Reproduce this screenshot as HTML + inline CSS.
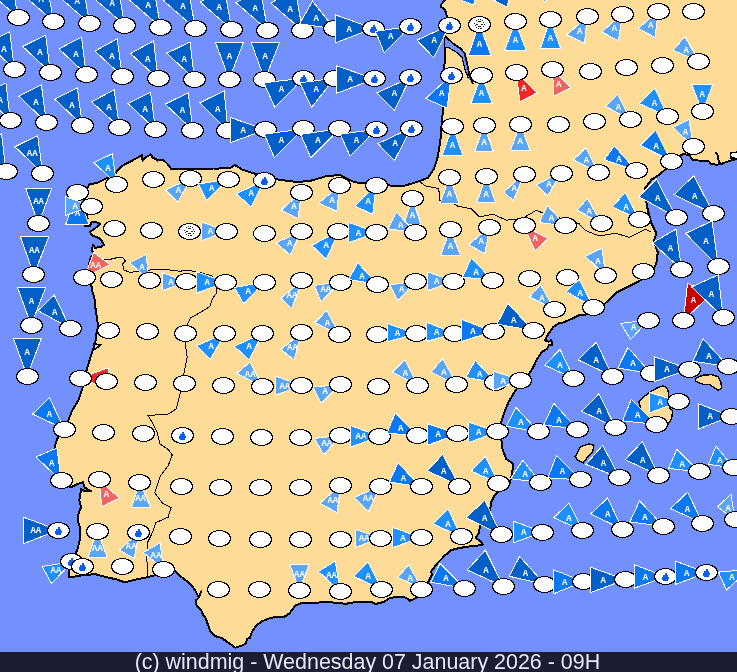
<!DOCTYPE html>
<html><head><meta charset="utf-8"><style>
html,body{margin:0;padding:0;background:#7291ff;}
#w{position:relative;width:737px;height:672px;overflow:hidden;}
svg{position:absolute;left:0;top:0;}
.t{font-family:"Liberation Mono",monospace;font-size:9px;font-weight:bold;fill:#fff;text-anchor:middle;}
</style></head><body><div id="w">
<svg width="737" height="672" viewBox="0 0 737 672" shape-rendering="crispEdges">
<rect x="0" y="0" width="737" height="672" fill="#7291ff"/>
<polygon points="445.5,-4.0 745.0,-4.0 745.0,157.0 737.0,159.0 728.7,161.2 722.9,163.4 717.1,164.8 711.3,164.1 708.4,160.8 698.2,160.5 692.4,159.8 689.5,155.4 683.7,154.0 676.0,157.0 668.0,166.0 665.6,169.2 659.0,175.0 651.8,179.4 645.2,188.1 645.5,195.3 646.9,206.1 651.0,222.4 656.4,233.3 653.7,241.4 657.8,252.3 656.4,263.1 651.0,274.0 637.4,282.1 626.6,287.5 615.7,293.0 604.8,303.8 599.4,309.3 585.8,314.7 580.0,314.6 574.2,317.7 565.8,321.4 563.8,322.4 558.5,323.4 553.3,327.1 550.2,331.3 547.1,335.9 545.0,340.6 548.6,341.7 551.4,340.0 552.3,345.3 549.0,344.8 547.1,349.0 541.9,351.9 537.1,359.0 532.4,368.6 527.6,375.7 520.0,385.0 515.7,390.0 508.6,401.9 503.8,413.8 500.2,425.7 499.0,433.0 501.4,440.0 502.6,449.5 506.2,459.0 513.3,463.8 512.1,473.3 509.8,482.9 500.3,490.0 494.2,496.1 491.1,502.2 490.1,510.4 483.0,518.5 479.9,526.6 478.9,532.7 475.8,537.8 480.9,541.9 483.0,544.5 475.8,546.0 467.7,546.6 459.6,548.0 451.4,550.0 445.3,555.1 437.2,563.3 431.1,571.4 432.0,574.7 427.6,583.4 421.0,595.4 416.8,597.6 410.0,600.8 406.0,597.6 397.2,596.5 388.5,598.6 384.0,601.9 375.5,604.0 371.0,601.9 356.0,601.9 345.0,604.0 340.8,603.0 323.4,601.9 314.7,603.0 301.7,603.0 295.4,605.6 289.7,613.2 284.0,617.0 276.4,617.0 270.7,617.9 261.2,621.7 255.5,626.5 251.7,632.2 249.8,637.9 246.9,638.8 246.0,643.6 242.2,645.5 235.5,647.8 227.0,641.7 221.3,637.9 214.6,636.0 210.8,632.2 208.0,624.6 205.1,617.0 203.2,615.1 201.3,610.3 196.6,605.6 195.6,600.8 198.5,598.0 201.3,591.3 198.5,597.0 194.7,589.4 189.0,582.8 181.4,577.1 175.7,571.4 168.2,571.4 149.3,576.8 135.7,579.5 124.8,582.3 116.7,579.5 103.1,576.3 95.0,574.1 81.4,575.5 69.2,577.4 69.2,571.4 73.3,557.8 77.3,549.7 80.1,538.8 80.1,528.0 77.5,520.0 78.4,514.3 81.1,507.1 79.3,500.0 80.2,494.6 81.1,489.3 84.6,491.1 90.9,491.1 84.6,487.5 82.9,482.1 75.7,484.8 70.4,487.5 62.0,482.0 58.8,471.4 57.0,462.5 55.2,453.6 55.2,444.6 57.9,437.5 64.0,430.0 68.6,419.6 72.1,410.7 78.5,400.0 82.5,388.1 86.6,370.1 89.1,362.0 91.5,353.8 94.0,347.2 95.6,340.7 96.4,334.2 98.1,326.0 97.2,319.4 95.6,309.6 94.8,299.8 92.0,290.0 91.3,285.0 89.8,270.0 89.0,265.6 89.8,259.6 91.3,256.6 94.3,253.6 92.0,250.7 92.8,244.7 95.0,247.7 101.0,247.0 104.0,244.7 101.7,241.0 98.7,238.0 92.8,235.8 89.8,232.0 94.3,229.1 100.2,223.8 96.5,222.4 91.3,222.4 89.8,226.1 84.6,226.1 87.6,218.6 86.8,214.9 86.0,205.0 85.0,198.0 86.0,190.0 89.6,184.4 98.2,182.5 106.2,178.5 115.6,173.1 120.0,167.6 125.3,164.1 132.3,160.6 138.5,157.1 142.0,155.3 142.6,160.6 144.7,157.9 150.9,154.4 152.6,157.9 155.3,158.8 157.9,160.6 162.3,159.7 165.0,161.5 167.6,164.1 170.3,167.6 171.1,169.4 180.0,169.4 194.0,169.0 204.7,169.4 213.5,168.5 218.8,168.5 231.1,167.6 234.6,165.0 238.2,166.8 241.7,169.4 251.4,172.7 275.6,179.2 297.0,182.1 311.2,180.6 325.5,176.4 339.7,174.9 354.0,182.1 365.4,183.5 379.6,182.1 391.0,185.8 402.4,186.3 416.6,182.1 428.0,177.8 433.7,169.2 436.6,160.7 437.7,157.0 440.3,141.8 441.5,126.6 442.8,111.4 444.0,101.3 445.3,83.5 444.0,68.4 445.3,58.2 445.3,45.6 445.0,36.0 447.0,18.0 446.0,12.6 444.1,8.9 440.8,6.7 441.2,4.5 444.9,0.0" fill="#ffdb98" stroke="#000" stroke-width="2" stroke-linejoin="round"/>
<polygon points="644.2,396.5 649.6,392.4 656.4,388.3 663.2,385.6 667.3,388.3 668.6,393.8 670.0,408.7 672.7,411.4 671.3,419.6 667.3,425.0 656.0,424.0 645.5,419.6 641.5,411.4 638.8,401.9" fill="#ffdb98" stroke="#000" stroke-width="1.4" stroke-linejoin="round"/>
<polygon points="695.7,378.2 703.1,375.2 712.0,374.6 718.0,376.7 721.0,382.7 721.5,388.6 718.0,390.1 713.5,387.1 709.0,384.2 703.1,384.2 698.6,382.7 695.7,381.2" fill="#ffdb98" stroke="#000" stroke-width="1.4" stroke-linejoin="round"/>
<polygon points="576.3,454.8 580.4,446.7 588.6,444.0 594.0,445.3 592.6,452.1 587.2,457.5 583.1,463.0 577.7,460.3 575.0,456.2" fill="#ffdb98" stroke="#000" stroke-width="1.4" stroke-linejoin="round"/>
<polyline points="89.8,259.6 95.5,259.9 109.2,259.6 116.7,257.7 122.6,257.4 125.6,261.1 122.6,264.1 124.1,270.0 130.3,272.6 135.7,271.3 150.0,270.0 169.6,269.9 180.0,271.3 186.8,270.0 190.0,270.7 200.0,272.5" fill="none" stroke="#000" stroke-width="1"/>
<polyline points="200.0,272.5 212.0,276.0 216.6,283.0 216.6,293.0 212.6,298.4 209.9,306.5 196.3,314.7 190.9,317.4 186.8,325.5 184.5,338.1 187.2,357.1 184.5,370.7 180.5,392.4 176.4,408.7 168.2,414.1 147.9,415.5 152.0,422.3 157.4,433.1 160.1,444.0 168.2,449.4 172.3,454.8 168.2,465.7 160.1,476.5 154.7,492.8 162.8,503.6 171.0,507.6 168.2,517.1 156.0,522.6 152.0,533.4 147.9,541.6 146.5,557.8 147.9,568.7 148.0,577.0" fill="none" stroke="#000" stroke-width="1"/>
<polyline points="419.7,181.7 425.1,185.8 431.9,187.1 438.7,188.5 440.0,200.7 449.0,201.0 457.7,206.1 471.3,208.8 479.4,217.0 493.0,214.3 506.5,220.2 522.8,218.3 536.4,210.2 545.0,214.0 572.3,221.1 579.1,223.8 585.8,230.6 599.4,236.0 615.7,233.3 629.3,237.3 645.5,229.2 651.0,232.0" fill="none" stroke="#000" stroke-width="1"/>
<polygon points="445,36.4 454.5,44.6 460,48 464.5,53 467,63 469.5,76 473,83.5 468.5,78.5 465.5,71 462,57 456,52 449.5,48 445.5,47.5" fill="#7291ff"/>
<polyline points="445,36.4 454.5,44.6 460,48 464.5,53 467,63 469.5,76 473.2,84" fill="none" stroke="#000" stroke-width="1.8"/>
<polyline points="445.5,47.5 449.5,48 456,52 462,57 465.5,71 468.5,78.5" fill="none" stroke="#000" stroke-width="1.2"/>
<polyline points="715.6,152.4 717.9,155.5 718.7,161.7 721.8,164.7" fill="none" stroke="#000" stroke-width="2"/>
<polygon points="730.5,153 738,152 738,158.5 731,158" fill="#fff" stroke="#000" stroke-width="1.5"/>
<polyline points="96.4,339 94,344 100.5,344.8 95.6,348.9 92.3,350.5" fill="none" stroke="#000" stroke-width="1.8"/>
<polygon points="448.0,-5.0 476.0,-4.0 473.4,4.9" fill="#0a78f0" stroke="#fff" stroke-width="1"/>
<polygon points="481.0,-6.5 509.0,-6.0 507.6,7.3" fill="#0060c8" stroke="#fff" stroke-width="1"/>
<polygon points="538.0,-4.0 547.0,-2.0 545.0,1.6" fill="#1e90ff" stroke="#fff" stroke-width="1"/>
<polygon points="18.0,17.2 -13.6,-10.3 10.7,-24.1" fill="#0060c8" stroke="#fff" stroke-width="1"/>
<text x="5.6" y="-1.8" class="t">A</text>
<ellipse cx="18.5" cy="17.5" rx="11" ry="8" fill="#fff" stroke="#000" stroke-width="1"/>
<polygon points="53.5,21.3 21.9,-6.2 46.2,-20.0" fill="#0060c8" stroke="#fff" stroke-width="1"/>
<text x="41.1" y="2.3" class="t">A</text>
<ellipse cx="53.5" cy="21.5" rx="11" ry="8" fill="#fff" stroke="#000" stroke-width="1"/>
<polygon points="89.6,23.3 58.0,-4.2 82.3,-18.0" fill="#0060c8" stroke="#fff" stroke-width="1"/>
<text x="77.2" y="4.3" class="t">A</text>
<ellipse cx="89.5" cy="23.5" rx="11" ry="8" fill="#fff" stroke="#000" stroke-width="1"/>
<polygon points="124.7,25.1 93.1,-2.4 117.4,-16.2" fill="#0060c8" stroke="#fff" stroke-width="1"/>
<text x="112.3" y="6.1" class="t">A</text>
<ellipse cx="124.5" cy="25.5" rx="11" ry="8" fill="#fff" stroke="#000" stroke-width="1"/>
<polygon points="160.6,27.1 129.0,-0.4 153.3,-14.2" fill="#0060c8" stroke="#fff" stroke-width="1"/>
<text x="148.2" y="8.1" class="t">A</text>
<ellipse cx="160.5" cy="27.5" rx="11" ry="8" fill="#fff" stroke="#000" stroke-width="1"/>
<polygon points="195.3,28.4 163.7,0.9 188.0,-12.9" fill="#0060c8" stroke="#fff" stroke-width="1"/>
<text x="182.9" y="9.4" class="t">A</text>
<ellipse cx="195.5" cy="28.5" rx="11" ry="8" fill="#fff" stroke="#000" stroke-width="1"/>
<polygon points="231.7,29.4 200.1,1.9 224.4,-11.9" fill="#0060c8" stroke="#fff" stroke-width="1"/>
<text x="219.3" y="10.4" class="t">A</text>
<ellipse cx="231.5" cy="29.5" rx="11" ry="8" fill="#fff" stroke="#000" stroke-width="1"/>
<polygon points="267.6,30.1 236.0,2.6 260.3,-11.2" fill="#0060c8" stroke="#fff" stroke-width="1"/>
<text x="255.2" y="11.1" class="t">A</text>
<ellipse cx="267.5" cy="30.5" rx="11" ry="8" fill="#fff" stroke="#000" stroke-width="1"/>
<polygon points="302.5,30.6 270.9,3.1 295.2,-10.7" fill="#0060c8" stroke="#fff" stroke-width="1"/>
<text x="290.1" y="11.6" class="t">A</text>
<ellipse cx="302.5" cy="30.5" rx="11" ry="8" fill="#fff" stroke="#000" stroke-width="1"/>
<polygon points="334.6,28.9 312.5,1.2 299.5,23.8" fill="#0060c8" stroke="#fff" stroke-width="1"/>
<text x="316.3" y="21.4" class="t">A</text>
<ellipse cx="334.5" cy="28.5" rx="11" ry="8" fill="#fff" stroke="#000" stroke-width="1"/>
<polygon points="373.2,28.3 335.9,15.1 335.9,42.7" fill="#0060c8" stroke="#fff" stroke-width="1"/>
<text x="349.3" y="31.7" class="t">A</text>
<ellipse cx="373.5" cy="28.5" rx="11" ry="8" fill="#fff" stroke="#000" stroke-width="1"/>
<g transform="translate(373.5,28.5)" fill="#0a5cf2"><circle cx="0" cy="1.6" r="3.2"/><rect x="-1" y="-3.2" width="2" height="2.5"/></g>
<polygon points="410.2,26.4 375.5,31.4 384.3,52.7" fill="#0060c8" stroke="#fff" stroke-width="1"/>
<text x="390.8" y="39.4" class="t">A</text>
<ellipse cx="410.5" cy="26.5" rx="11" ry="8" fill="#fff" stroke="#000" stroke-width="1"/>
<g transform="translate(410.5,26.5)" fill="#0a5cf2"><circle cx="0" cy="1.6" r="3.2"/><rect x="-1" y="-3.2" width="2" height="2.5"/></g>
<polygon points="449.6,25.1 417.0,40.2 433.8,57.7" fill="#0060c8" stroke="#fff" stroke-width="1"/>
<text x="434.1" y="43.4" class="t">A</text>
<ellipse cx="449.5" cy="25.5" rx="11" ry="8" fill="#fff" stroke="#000" stroke-width="1"/>
<g transform="translate(449.5,25.5)" fill="#0a5cf2"><circle cx="0" cy="1.6" r="3.2"/><rect x="-1" y="-3.2" width="2" height="2.5"/></g>
<polygon points="479.2,24.3 468.4,55.2 491.0,55.2" fill="#0a78f0" stroke="#fff" stroke-width="1"/>
<text x="479.5" y="47.1" class="t">A</text>
<ellipse cx="479.5" cy="24.5" rx="11" ry="8" fill="#fff" stroke="#000" stroke-width="1"/>
<g transform="translate(479.5,24.0)" fill="none" stroke="#222" stroke-width="1"><circle r="4.6" stroke-dasharray="1.2 1.2"/><path d="M-3.2,0H-1.2M1.2,0H3.2M-1.5,-2.6H1.5M-1.5,2.6H1.5"/></g>
<polygon points="515.3,21.8 504.8,50.2 526.1,50.2" fill="#1e90ff" stroke="#fff" stroke-width="1"/>
<text x="515.4" y="43.0" class="t">A</text>
<ellipse cx="515.5" cy="21.5" rx="11" ry="8" fill="#fff" stroke="#000" stroke-width="1"/>
<polygon points="550.0,19.5 540.3,48.8 560.9,48.8" fill="#1e90ff" stroke="#fff" stroke-width="1"/>
<text x="550.4" y="41.3" class="t">A</text>
<ellipse cx="550.5" cy="19.5" rx="11" ry="8" fill="#fff" stroke="#000" stroke-width="1"/>
<polygon points="587.2,16.8 566.9,34.7 584.5,43.4" fill="#5aa5f5" stroke="#fff" stroke-width="1"/>
<text x="579.8" y="34.0" class="t">A</text>
<ellipse cx="587.5" cy="16.5" rx="11" ry="8" fill="#fff" stroke="#000" stroke-width="1"/>
<polygon points="622.5,14.1 601.6,32.0 618.4,40.7" fill="#5aa5f5" stroke="#fff" stroke-width="1"/>
<text x="614.5" y="31.3" class="t">A</text>
<ellipse cx="622.5" cy="14.5" rx="11" ry="8" fill="#fff" stroke="#000" stroke-width="1"/>
<polygon points="658.3,11.4 638.0,28.5 655.0,37.4" fill="#5aa5f5" stroke="#fff" stroke-width="1"/>
<text x="650.7" y="28.2" class="t">A</text>
<ellipse cx="658.5" cy="11.5" rx="11" ry="8" fill="#fff" stroke="#000" stroke-width="1"/>
<ellipse cx="693.5" cy="11.5" rx="11" ry="8" fill="#fff" stroke="#000" stroke-width="1"/>
<polygon points="14.3,69.0 -13.3,43.1 9.8,31.8" fill="#0060c8" stroke="#fff" stroke-width="1"/>
<text x="4.0" y="51.8" class="t">A</text>
<ellipse cx="14.5" cy="69.5" rx="11" ry="8" fill="#fff" stroke="#000" stroke-width="1"/>
<polygon points="50.2,72.3 22.6,46.4 45.7,35.1" fill="#0060c8" stroke="#fff" stroke-width="1"/>
<text x="39.9" y="55.1" class="t">A</text>
<ellipse cx="50.5" cy="72.5" rx="11" ry="8" fill="#fff" stroke="#000" stroke-width="1"/>
<polygon points="86.1,74.3 59.0,48.9 81.6,37.1" fill="#0060c8" stroke="#fff" stroke-width="1"/>
<text x="76.0" y="57.3" class="t">A</text>
<ellipse cx="86.5" cy="74.5" rx="11" ry="8" fill="#fff" stroke="#000" stroke-width="1"/>
<polygon points="122.2,76.1 94.9,51.0 117.2,38.9" fill="#0060c8" stroke="#fff" stroke-width="1"/>
<text x="111.9" y="59.2" class="t">A</text>
<ellipse cx="122.5" cy="76.5" rx="11" ry="8" fill="#fff" stroke="#000" stroke-width="1"/>
<polygon points="158.1,78.6 130.5,53.5 153.6,40.9" fill="#0060c8" stroke="#fff" stroke-width="1"/>
<text x="147.8" y="61.5" class="t">A</text>
<ellipse cx="158.5" cy="78.5" rx="11" ry="8" fill="#fff" stroke="#000" stroke-width="1"/>
<polygon points="194.5,79.1 166.9,53.2 190.0,41.9" fill="#0060c8" stroke="#fff" stroke-width="1"/>
<text x="184.2" y="61.9" class="t">A</text>
<ellipse cx="194.5" cy="79.5" rx="11" ry="8" fill="#fff" stroke="#000" stroke-width="1"/>
<polygon points="229.2,79.1 215.4,42.2 243.5,42.2" fill="#0060c8" stroke="#fff" stroke-width="1"/>
<text x="229.4" y="58.5" class="t">A</text>
<ellipse cx="229.5" cy="79.5" rx="11" ry="8" fill="#fff" stroke="#000" stroke-width="1"/>
<polygon points="264.8,79.8 251.3,42.7 279.4,42.7" fill="#0060c8" stroke="#fff" stroke-width="1"/>
<text x="265.2" y="59.1" class="t">A</text>
<ellipse cx="264.5" cy="79.5" rx="11" ry="8" fill="#fff" stroke="#000" stroke-width="1"/>
<polygon points="303.2,78.3 263.8,82.8 274.9,107.4" fill="#0060c8" stroke="#fff" stroke-width="1"/>
<text x="281.5" y="92.1" class="t">A</text>
<ellipse cx="303.5" cy="78.5" rx="11" ry="8" fill="#fff" stroke="#000" stroke-width="1"/>
<g transform="translate(303.5,78.5)" fill="#0a5cf2"><circle cx="0" cy="1.6" r="3.2"/><rect x="-1" y="-3.2" width="2" height="2.5"/></g>
<polygon points="334.6,78.3 300.0,82.8 311.5,107.4" fill="#0060c8" stroke="#fff" stroke-width="1"/>
<text x="316.1" y="92.1" class="t">A</text>
<ellipse cx="334.5" cy="78.5" rx="11" ry="8" fill="#fff" stroke="#000" stroke-width="1"/>
<polygon points="374.6,78.9 336.4,65.8 336.4,93.4" fill="#0060c8" stroke="#fff" stroke-width="1"/>
<text x="350.2" y="82.3" class="t">A</text>
<ellipse cx="374.5" cy="78.5" rx="11" ry="8" fill="#fff" stroke="#000" stroke-width="1"/>
<g transform="translate(374.5,78.5)" fill="#0a5cf2"><circle cx="0" cy="1.6" r="3.2"/><rect x="-1" y="-3.2" width="2" height="2.5"/></g>
<polygon points="410.2,77.8 376.8,92.9 394.4,110.4" fill="#0060c8" stroke="#fff" stroke-width="1"/>
<text x="394.5" y="96.1" class="t">A</text>
<ellipse cx="410.5" cy="77.5" rx="11" ry="8" fill="#fff" stroke="#000" stroke-width="1"/>
<g transform="translate(410.5,77.5)" fill="#0a5cf2"><circle cx="0" cy="1.6" r="3.2"/><rect x="-1" y="-3.2" width="2" height="2.5"/></g>
<polygon points="451.2,75.4 425.7,98.6 447.1,108.1" fill="#0a78f0" stroke="#fff" stroke-width="1"/>
<text x="441.7" y="96.3" class="t">A</text>
<ellipse cx="451.5" cy="75.5" rx="11" ry="8" fill="#fff" stroke="#000" stroke-width="1"/>
<g transform="translate(451.5,75.5)" fill="#0a5cf2"><circle cx="0" cy="1.6" r="3.2"/><rect x="-1" y="-3.2" width="2" height="2.5"/></g>
<polygon points="481.5,75.3 470.9,103.4 492.2,103.4" fill="#1e90ff" stroke="#fff" stroke-width="1"/>
<text x="481.5" y="96.3" class="t">A</text>
<ellipse cx="481.5" cy="75.5" rx="11" ry="8" fill="#fff" stroke="#000" stroke-width="1"/>
<polygon points="516.1,72.0 519.9,101.7 536.7,92.9" fill="#f02828" stroke="#fff" stroke-width="1"/>
<text x="523.9" y="91.2" class="t">A</text>
<ellipse cx="516.5" cy="72.5" rx="11" ry="8" fill="#fff" stroke="#000" stroke-width="1"/>
<polygon points="552.5,69.2 553.8,96.3 570.9,87.4" fill="#f06464" stroke="#fff" stroke-width="1"/>
<text x="558.8" y="86.7" class="t">A</text>
<ellipse cx="552.5" cy="69.5" rx="11" ry="8" fill="#fff" stroke="#000" stroke-width="1"/>
<ellipse cx="590.5" cy="71.5" rx="11" ry="8" fill="#fff" stroke="#000" stroke-width="1"/>
<ellipse cx="626.5" cy="67.5" rx="11" ry="8" fill="#fff" stroke="#000" stroke-width="1"/>
<ellipse cx="662.5" cy="65.5" rx="11" ry="8" fill="#fff" stroke="#000" stroke-width="1"/>
<polygon points="698.5,61.1 673.2,50.2 684.9,36.6" fill="#5aa5f5" stroke="#fff" stroke-width="1"/>
<text x="686.1" y="52.8" class="t">A</text>
<ellipse cx="698.5" cy="61.5" rx="11" ry="8" fill="#fff" stroke="#000" stroke-width="1"/>
<polygon points="10.4,120.3 -17.2,94.4 5.9,83.1" fill="#0060c8" stroke="#fff" stroke-width="1"/>
<text x="0.1" y="103.1" class="t">A</text>
<ellipse cx="10.5" cy="120.5" rx="11" ry="8" fill="#fff" stroke="#000" stroke-width="1"/>
<polygon points="46.4,122.5 18.8,96.1 41.4,84.8" fill="#0060c8" stroke="#fff" stroke-width="1"/>
<text x="36.0" y="105.0" class="t">A</text>
<ellipse cx="46.5" cy="122.5" rx="11" ry="8" fill="#fff" stroke="#000" stroke-width="1"/>
<polygon points="82.3,125.0 54.7,99.1 77.3,87.8" fill="#0060c8" stroke="#fff" stroke-width="1"/>
<text x="71.9" y="107.8" class="t">A</text>
<ellipse cx="82.5" cy="125.5" rx="11" ry="8" fill="#fff" stroke="#000" stroke-width="1"/>
<polygon points="119.5,127.3 91.6,101.7 114.2,89.9" fill="#0060c8" stroke="#fff" stroke-width="1"/>
<text x="108.9" y="110.1" class="t">A</text>
<ellipse cx="119.5" cy="127.5" rx="11" ry="8" fill="#fff" stroke="#000" stroke-width="1"/>
<polygon points="155.4,129.3 128.0,103.4 150.6,92.4" fill="#0060c8" stroke="#fff" stroke-width="1"/>
<text x="145.1" y="112.2" class="t">A</text>
<ellipse cx="155.5" cy="129.5" rx="11" ry="8" fill="#fff" stroke="#000" stroke-width="1"/>
<polygon points="192.8,130.0 165.2,104.1 188.3,92.8" fill="#0060c8" stroke="#fff" stroke-width="1"/>
<text x="182.5" y="112.8" class="t">A</text>
<ellipse cx="192.5" cy="130.5" rx="11" ry="8" fill="#fff" stroke="#000" stroke-width="1"/>
<polygon points="227.9,130.5 199.6,102.9 224.2,90.9" fill="#0060c8" stroke="#fff" stroke-width="1"/>
<text x="217.7" y="112.0" class="t">A</text>
<ellipse cx="227.5" cy="130.5" rx="11" ry="8" fill="#fff" stroke="#000" stroke-width="1"/>
<polygon points="265.6,129.8 230.4,117.5 230.4,142.6" fill="#0060c8" stroke="#fff" stroke-width="1"/>
<text x="243.1" y="133.0" class="t">A</text>
<ellipse cx="265.5" cy="129.5" rx="11" ry="8" fill="#fff" stroke="#000" stroke-width="1"/>
<polygon points="303.2,128.8 264.3,134.3 274.4,157.6" fill="#0060c8" stroke="#fff" stroke-width="1"/>
<text x="281.5" y="142.8" class="t">A</text>
<ellipse cx="303.5" cy="128.5" rx="11" ry="8" fill="#fff" stroke="#000" stroke-width="1"/>
<polygon points="339.6,128.8 300.7,134.3 310.8,157.6" fill="#0060c8" stroke="#fff" stroke-width="1"/>
<text x="317.9" y="142.8" class="t">A</text>
<ellipse cx="339.5" cy="128.5" rx="11" ry="8" fill="#fff" stroke="#000" stroke-width="1"/>
<polygon points="376.2,129.3 340.3,134.2 350.1,156.2" fill="#0060c8" stroke="#fff" stroke-width="1"/>
<text x="356.4" y="142.5" class="t">A</text>
<ellipse cx="376.5" cy="129.5" rx="11" ry="8" fill="#fff" stroke="#000" stroke-width="1"/>
<g transform="translate(376.5,129.5)" fill="#0a5cf2"><circle cx="0" cy="1.6" r="3.2"/><rect x="-1" y="-3.2" width="2" height="2.5"/></g>
<polygon points="411.2,128.0 378.0,143.6 394.4,160.6" fill="#0060c8" stroke="#fff" stroke-width="1"/>
<text x="395.2" y="146.4" class="t">A</text>
<ellipse cx="411.5" cy="128.5" rx="11" ry="8" fill="#fff" stroke="#000" stroke-width="1"/>
<g transform="translate(411.5,128.5)" fill="#0a5cf2"><circle cx="0" cy="1.6" r="3.2"/><rect x="-1" y="-3.2" width="2" height="2.5"/></g>
<polygon points="452.6,126.8 442.0,155.6 462.9,155.6" fill="#1e90ff" stroke="#fff" stroke-width="1"/>
<text x="452.5" y="148.2" class="t">A</text>
<ellipse cx="452.5" cy="126.5" rx="11" ry="8" fill="#fff" stroke="#000" stroke-width="1"/>
<polygon points="484.0,125.5 474.7,151.9 493.5,151.9" fill="#5aa5f5" stroke="#fff" stroke-width="1"/>
<text x="484.1" y="145.4" class="t">A</text>
<ellipse cx="484.5" cy="125.5" rx="11" ry="8" fill="#fff" stroke="#000" stroke-width="1"/>
<polygon points="520.4,124.2 510.6,150.1 529.9,150.1" fill="#5aa5f5" stroke="#fff" stroke-width="1"/>
<text x="520.3" y="143.8" class="t">A</text>
<ellipse cx="520.5" cy="124.5" rx="11" ry="8" fill="#fff" stroke="#000" stroke-width="1"/>
<ellipse cx="558.5" cy="124.5" rx="11" ry="8" fill="#fff" stroke="#000" stroke-width="1"/>
<ellipse cx="594.5" cy="121.5" rx="11" ry="8" fill="#fff" stroke="#000" stroke-width="1"/>
<polygon points="630.6,119.4 605.4,106.4 617.6,94.4" fill="#5aa5f5" stroke="#fff" stroke-width="1"/>
<text x="618.4" y="110.2" class="t">A</text>
<ellipse cx="630.5" cy="119.5" rx="11" ry="8" fill="#fff" stroke="#000" stroke-width="1"/>
<polygon points="667.3,116.1 639.6,103.7 655.0,88.2" fill="#1e90ff" stroke="#fff" stroke-width="1"/>
<text x="654.5" y="106.2" class="t">A</text>
<ellipse cx="667.5" cy="116.5" rx="11" ry="8" fill="#fff" stroke="#000" stroke-width="1"/>
<polygon points="702.5,111.8 691.7,84.1 712.8,84.1" fill="#1e90ff" stroke="#fff" stroke-width="1"/>
<text x="702.3" y="97.1" class="t">A</text>
<ellipse cx="702.5" cy="111.5" rx="11" ry="8" fill="#fff" stroke="#000" stroke-width="1"/>
<polygon points="6.0,171.0 -21.6,145.1 1.5,133.8" fill="#0060c8" stroke="#fff" stroke-width="1"/>
<text x="-4.3" y="153.8" class="t">A</text>
<ellipse cx="6.5" cy="171.5" rx="11" ry="8" fill="#fff" stroke="#000" stroke-width="1"/>
<polygon points="42.6,173.0 15.0,146.8 37.7,135.5" fill="#0060c8" stroke="#fff" stroke-width="1"/>
<text x="32.2" y="155.6" class="t">AA</text>
<ellipse cx="42.5" cy="173.5" rx="11" ry="8" fill="#fff" stroke="#000" stroke-width="1"/>
<polygon points="77.5,192.1 65.8,224.0 88.8,224.0" fill="#0a78f0" stroke="#fff" stroke-width="1"/>
<text x="77.4" y="215.5" class="t">A</text>
<ellipse cx="77.5" cy="192.5" rx="11" ry="8" fill="#fff" stroke="#000" stroke-width="1"/>
<polygon points="91.8,206.3 65.8,196.6 65.8,215.3" fill="#5aa5f5" stroke="#fff" stroke-width="1"/>
<text x="75.2" y="209.1" class="t">A</text>
<ellipse cx="91.5" cy="206.5" rx="11" ry="8" fill="#fff" stroke="#000" stroke-width="1"/>
<polygon points="116.6,184.5 93.9,162.4 112.3,153.7" fill="#1e90ff" stroke="#fff" stroke-width="1"/>
<text x="108.0" y="170.6" class="t">A</text>
<ellipse cx="116.5" cy="184.5" rx="11" ry="8" fill="#fff" stroke="#000" stroke-width="1"/>
<ellipse cx="153.5" cy="179.5" rx="11" ry="8" fill="#fff" stroke="#000" stroke-width="1"/>
<polygon points="190.9,178.5 165.5,189.9 177.7,202.0" fill="#5aa5f5" stroke="#fff" stroke-width="1"/>
<text x="178.5" y="192.7" class="t">A</text>
<ellipse cx="190.5" cy="178.5" rx="11" ry="8" fill="#fff" stroke="#000" stroke-width="1"/>
<polygon points="228.3,179.5 198.5,183.9 206.6,200.2" fill="#1e90ff" stroke="#fff" stroke-width="1"/>
<text x="211.8" y="190.5" class="t">A</text>
<ellipse cx="228.5" cy="179.5" rx="11" ry="8" fill="#fff" stroke="#000" stroke-width="1"/>
<polygon points="264.1,180.4 236.4,193.9 251.1,206.7" fill="#1e90ff" stroke="#fff" stroke-width="1"/>
<text x="251.1" y="196.1" class="t">A</text>
<ellipse cx="264.5" cy="180.5" rx="11" ry="8" fill="#fff" stroke="#000" stroke-width="1"/>
<g transform="translate(264.5,180.5)" fill="#0a5cf2"><circle cx="0" cy="1.6" r="3.2"/><rect x="-1" y="-3.2" width="2" height="2.5"/></g>
<polygon points="301.6,192.0 281.0,210.2 298.0,218.3" fill="#5aa5f5" stroke="#fff" stroke-width="1"/>
<text x="293.9" y="209.2" class="t">A</text>
<ellipse cx="301.5" cy="192.5" rx="11" ry="8" fill="#fff" stroke="#000" stroke-width="1"/>
<polygon points="339.6,185.8 318.9,202.9 336.8,211.6" fill="#5aa5f5" stroke="#fff" stroke-width="1"/>
<text x="332.1" y="202.5" class="t">A</text>
<ellipse cx="339.5" cy="185.5" rx="11" ry="8" fill="#fff" stroke="#000" stroke-width="1"/>
<polygon points="376.2,185.1 355.0,206.1 372.7,214.3" fill="#1e90ff" stroke="#fff" stroke-width="1"/>
<text x="368.3" y="204.2" class="t">A</text>
<ellipse cx="376.5" cy="185.5" rx="11" ry="8" fill="#fff" stroke="#000" stroke-width="1"/>
<polygon points="412.3,198.2 404.0,224.5 421.0,224.5" fill="#5aa5f5" stroke="#fff" stroke-width="1"/>
<text x="412.4" y="218.0" class="t">A</text>
<ellipse cx="412.5" cy="198.5" rx="11" ry="8" fill="#fff" stroke="#000" stroke-width="1"/>
<polygon points="449.6,177.6 440.0,203.4 459.0,203.4" fill="#5aa5f5" stroke="#fff" stroke-width="1"/>
<text x="449.5" y="197.1" class="t">A</text>
<ellipse cx="449.5" cy="177.5" rx="11" ry="8" fill="#fff" stroke="#000" stroke-width="1"/>
<polygon points="486.2,176.8 476.7,202.9 495.7,202.9" fill="#5aa5f5" stroke="#fff" stroke-width="1"/>
<text x="486.2" y="196.5" class="t">A</text>
<ellipse cx="486.5" cy="176.5" rx="11" ry="8" fill="#fff" stroke="#000" stroke-width="1"/>
<polygon points="524.2,174.1 503.8,192.0 513.3,200.7" fill="#5aa5f5" stroke="#fff" stroke-width="1"/>
<text x="514.2" y="191.3" class="t">A</text>
<ellipse cx="524.5" cy="174.5" rx="11" ry="8" fill="#fff" stroke="#000" stroke-width="1"/>
<polygon points="561.0,173.0 536.7,184.5 547.5,196.0" fill="#5aa5f5" stroke="#fff" stroke-width="1"/>
<text x="548.9" y="187.0" class="t">A</text>
<ellipse cx="561.5" cy="173.5" rx="11" ry="8" fill="#fff" stroke="#000" stroke-width="1"/>
<polygon points="598.5,172.3 573.6,159.6 585.8,147.9" fill="#5aa5f5" stroke="#fff" stroke-width="1"/>
<text x="586.5" y="163.4" class="t">A</text>
<ellipse cx="598.5" cy="172.5" rx="11" ry="8" fill="#fff" stroke="#000" stroke-width="1"/>
<polygon points="636.0,170.4 604.3,159.6 614.3,146.0" fill="#0a78f0" stroke="#fff" stroke-width="1"/>
<text x="618.9" y="162.1" class="t">A</text>
<ellipse cx="636.5" cy="170.5" rx="11" ry="8" fill="#fff" stroke="#000" stroke-width="1"/>
<polygon points="671.3,161.0 640.1,145.2 655.6,130.3" fill="#0a78f0" stroke="#fff" stroke-width="1"/>
<text x="656.3" y="149.1" class="t">A</text>
<ellipse cx="671.5" cy="161.5" rx="11" ry="8" fill="#fff" stroke="#000" stroke-width="1"/>
<polygon points="693.2,146.3 673.2,127.5 689.0,119.4" fill="#5aa5f5" stroke="#fff" stroke-width="1"/>
<text x="685.5" y="134.7" class="t">A</text>
<ellipse cx="693.5" cy="146.5" rx="11" ry="8" fill="#fff" stroke="#000" stroke-width="1"/>
<polygon points="38.5,223.8 25.8,188.5 51.6,188.5" fill="#0060c8" stroke="#fff" stroke-width="1"/>
<text x="38.6" y="204.2" class="t">AA</text>
<ellipse cx="38.5" cy="223.5" rx="11" ry="8" fill="#fff" stroke="#000" stroke-width="1"/>
<ellipse cx="114.5" cy="228.5" rx="11" ry="8" fill="#fff" stroke="#000" stroke-width="1"/>
<ellipse cx="151.5" cy="230.5" rx="11" ry="8" fill="#fff" stroke="#000" stroke-width="1"/>
<ellipse cx="189.5" cy="231.5" rx="11" ry="8" fill="#fff" stroke="#000" stroke-width="1"/>
<g transform="translate(189.5,231.0)" fill="none" stroke="#222" stroke-width="1"><circle r="4.6" stroke-dasharray="1.2 1.2"/><path d="M-3.2,0H-1.2M1.2,0H3.2M-1.5,-2.6H1.5M-1.5,2.6H1.5"/></g>
<polygon points="226.7,231.1 201.2,221.9 201.2,240.9" fill="#5aa5f5" stroke="#fff" stroke-width="1"/>
<text x="210.4" y="234.3" class="t">A</text>
<ellipse cx="226.5" cy="231.5" rx="11" ry="8" fill="#fff" stroke="#000" stroke-width="1"/>
<ellipse cx="264.5" cy="233.5" rx="11" ry="8" fill="#fff" stroke="#000" stroke-width="1"/>
<polygon points="301.6,231.1 276.3,242.8 289.9,255.0" fill="#5aa5f5" stroke="#fff" stroke-width="1"/>
<text x="289.8" y="245.5" class="t">A</text>
<ellipse cx="301.5" cy="231.5" rx="11" ry="8" fill="#fff" stroke="#000" stroke-width="1"/>
<polygon points="338.7,231.4 311.6,245.5 326.5,259.0" fill="#1e90ff" stroke="#fff" stroke-width="1"/>
<text x="326.1" y="247.7" class="t">A</text>
<ellipse cx="338.5" cy="231.5" rx="11" ry="8" fill="#fff" stroke="#000" stroke-width="1"/>
<polygon points="376.5,232.2 348.2,222.4 348.2,242.8" fill="#1e90ff" stroke="#fff" stroke-width="1"/>
<text x="358.4" y="235.5" class="t">A</text>
<ellipse cx="376.5" cy="232.5" rx="11" ry="8" fill="#fff" stroke="#000" stroke-width="1"/>
<polygon points="415.4,232.6 396.3,212.1 388.3,228.7" fill="#5aa5f5" stroke="#fff" stroke-width="1"/>
<text x="400.6" y="227.8" class="t">A</text>
<ellipse cx="415.5" cy="232.5" rx="11" ry="8" fill="#fff" stroke="#000" stroke-width="1"/>
<polygon points="450.1,229.2 440.9,255.0 460.4,255.0" fill="#5aa5f5" stroke="#fff" stroke-width="1"/>
<text x="450.5" y="248.7" class="t">A</text>
<ellipse cx="450.5" cy="229.5" rx="11" ry="8" fill="#fff" stroke="#000" stroke-width="1"/>
<polygon points="489.7,227.3 468.5,244.7 484.8,253.6" fill="#5aa5f5" stroke="#fff" stroke-width="1"/>
<text x="481.3" y="244.3" class="t">A</text>
<ellipse cx="489.5" cy="227.5" rx="11" ry="8" fill="#fff" stroke="#000" stroke-width="1"/>
<polygon points="524.2,225.9 535.0,250.9 548.0,238.7" fill="#f06464" stroke="#fff" stroke-width="1"/>
<text x="535.3" y="241.0" class="t">A</text>
<ellipse cx="524.5" cy="225.5" rx="11" ry="8" fill="#fff" stroke="#000" stroke-width="1"/>
<polygon points="565.5,225.9 539.5,222.5 547.5,205.5" fill="#5aa5f5" stroke="#fff" stroke-width="1"/>
<text x="551.4" y="221.3" class="t">A</text>
<ellipse cx="565.5" cy="225.5" rx="11" ry="8" fill="#fff" stroke="#000" stroke-width="1"/>
<polygon points="601.6,223.0 577.2,210.2 587.2,198.5" fill="#5aa5f5" stroke="#fff" stroke-width="1"/>
<text x="589.2" y="214.1" class="t">A</text>
<ellipse cx="601.5" cy="223.5" rx="11" ry="8" fill="#fff" stroke="#000" stroke-width="1"/>
<polygon points="639.3,219.7 612.4,206.7 625.2,192.6" fill="#1e90ff" stroke="#fff" stroke-width="1"/>
<text x="626.2" y="209.9" class="t">A</text>
<ellipse cx="639.5" cy="219.5" rx="11" ry="8" fill="#fff" stroke="#000" stroke-width="1"/>
<polygon points="676.0,217.0 638.8,196.6 656.4,179.0" fill="#0060c8" stroke="#fff" stroke-width="1"/>
<text x="657.8" y="201.3" class="t">A</text>
<ellipse cx="676.5" cy="217.5" rx="11" ry="8" fill="#fff" stroke="#000" stroke-width="1"/>
<polygon points="713.4,213.7 674.0,194.7 693.9,175.7" fill="#0060c8" stroke="#fff" stroke-width="1"/>
<text x="694.6" y="198.5" class="t">A</text>
<ellipse cx="713.5" cy="213.5" rx="11" ry="8" fill="#fff" stroke="#000" stroke-width="1"/>
<polygon points="33.9,274.5 20.4,236.8 48.8,236.8" fill="#0060c8" stroke="#fff" stroke-width="1"/>
<text x="34.3" y="253.4" class="t">AA</text>
<ellipse cx="33.5" cy="274.5" rx="11" ry="8" fill="#fff" stroke="#000" stroke-width="1"/>
<polygon points="84.9,277.2 93.6,252.3 109.9,264.5" fill="#f06464" stroke="#fff" stroke-width="1"/>
<text x="95.7" y="268.2" class="t">AA</text>
<ellipse cx="84.5" cy="277.5" rx="11" ry="8" fill="#fff" stroke="#000" stroke-width="1"/>
<ellipse cx="111.5" cy="279.5" rx="11" ry="8" fill="#fff" stroke="#000" stroke-width="1"/>
<polygon points="149.3,280.8 129.7,262.6 146.0,254.4" fill="#5aa5f5" stroke="#fff" stroke-width="1"/>
<text x="142.0" y="269.5" class="t">A</text>
<ellipse cx="149.5" cy="280.5" rx="11" ry="8" fill="#fff" stroke="#000" stroke-width="1"/>
<polygon points="186.7,281.6 162.0,272.6 162.0,290.8" fill="#5aa5f5" stroke="#fff" stroke-width="1"/>
<text x="170.9" y="284.7" class="t">A</text>
<ellipse cx="186.5" cy="281.5" rx="11" ry="8" fill="#fff" stroke="#000" stroke-width="1"/>
<polygon points="225.6,282.1 196.8,271.8 196.8,293.0" fill="#1e90ff" stroke="#fff" stroke-width="1"/>
<text x="207.2" y="285.3" class="t">A</text>
<ellipse cx="225.5" cy="282.5" rx="11" ry="8" fill="#fff" stroke="#000" stroke-width="1"/>
<polygon points="264.1,282.1 234.3,287.5 243.8,303.8" fill="#1e90ff" stroke="#fff" stroke-width="1"/>
<text x="248.1" y="293.8" class="t">A</text>
<ellipse cx="264.5" cy="282.5" rx="11" ry="8" fill="#fff" stroke="#000" stroke-width="1"/>
<polygon points="301.6,280.8 281.0,298.4 291.8,308.7" fill="#5aa5f5" stroke="#fff" stroke-width="1"/>
<text x="291.9" y="298.4" class="t">AA</text>
<ellipse cx="301.5" cy="280.5" rx="11" ry="8" fill="#fff" stroke="#000" stroke-width="1"/>
<polygon points="340.1,282.1 314.3,285.4 321.1,301.7" fill="#5aa5f5" stroke="#fff" stroke-width="1"/>
<text x="325.8" y="292.4" class="t">AA</text>
<ellipse cx="340.5" cy="282.5" rx="11" ry="8" fill="#fff" stroke="#000" stroke-width="1"/>
<polygon points="377.6,284.4 348.8,279.4 357.7,262.6" fill="#1e90ff" stroke="#fff" stroke-width="1"/>
<text x="362.0" y="278.8" class="t">A</text>
<ellipse cx="377.5" cy="284.5" rx="11" ry="8" fill="#fff" stroke="#000" stroke-width="1"/>
<polygon points="415.6,281.3 389.9,284.8 398.0,300.6" fill="#5aa5f5" stroke="#fff" stroke-width="1"/>
<text x="401.7" y="291.6" class="t">A</text>
<ellipse cx="415.5" cy="281.5" rx="11" ry="8" fill="#fff" stroke="#000" stroke-width="1"/>
<polygon points="453.6,281.3 427.3,271.8 427.3,290.8" fill="#5aa5f5" stroke="#fff" stroke-width="1"/>
<text x="436.8" y="284.3" class="t">A</text>
<ellipse cx="453.5" cy="281.5" rx="11" ry="8" fill="#fff" stroke="#000" stroke-width="1"/>
<polygon points="492.4,280.0 462.6,277.2 471.3,258.2" fill="#1e90ff" stroke="#fff" stroke-width="1"/>
<text x="476.1" y="275.1" class="t">A</text>
<ellipse cx="492.5" cy="280.5" rx="11" ry="8" fill="#fff" stroke="#000" stroke-width="1"/>
<ellipse cx="529.5" cy="278.5" rx="11" ry="8" fill="#fff" stroke="#000" stroke-width="1"/>
<ellipse cx="567.5" cy="277.5" rx="11" ry="8" fill="#fff" stroke="#000" stroke-width="1"/>
<polygon points="605.4,275.3 585.3,256.3 602.1,248.2" fill="#5aa5f5" stroke="#fff" stroke-width="1"/>
<text x="597.9" y="263.5" class="t">A</text>
<ellipse cx="605.5" cy="275.5" rx="11" ry="8" fill="#fff" stroke="#000" stroke-width="1"/>
<ellipse cx="643.5" cy="271.5" rx="11" ry="8" fill="#fff" stroke="#000" stroke-width="1"/>
<polygon points="681.6,269.4 652.3,242.8 676.0,229.2" fill="#0060c8" stroke="#fff" stroke-width="1"/>
<text x="670.4" y="251.0" class="t">A</text>
<ellipse cx="681.5" cy="269.5" rx="11" ry="8" fill="#fff" stroke="#000" stroke-width="1"/>
<polygon points="718.4,266.7 685.7,233.3 712.0,221.1" fill="#0060c8" stroke="#fff" stroke-width="1"/>
<text x="705.9" y="244.4" class="t">A</text>
<ellipse cx="718.5" cy="266.5" rx="11" ry="8" fill="#fff" stroke="#000" stroke-width="1"/>
<polygon points="554.2,309.4 529.6,297.0 540.5,284.8" fill="#5aa5f5" stroke="#fff" stroke-width="1"/>
<text x="541.9" y="300.6" class="t">A</text>
<ellipse cx="554.5" cy="309.5" rx="11" ry="8" fill="#fff" stroke="#000" stroke-width="1"/>
<polygon points="593.4,307.1 566.3,291.6 579.1,279.4" fill="#1e90ff" stroke="#fff" stroke-width="1"/>
<text x="580.2" y="296.3" class="t">A</text>
<ellipse cx="593.5" cy="307.5" rx="11" ry="8" fill="#fff" stroke="#000" stroke-width="1"/>
<polygon points="31.2,325.0 17.6,287.5 45.6,287.5" fill="#0060c8" stroke="#fff" stroke-width="1"/>
<text x="31.5" y="304.0" class="t">A</text>
<ellipse cx="31.5" cy="325.5" rx="11" ry="8" fill="#fff" stroke="#000" stroke-width="1"/>
<polygon points="70.0,328.2 38.0,310.6 54.3,295.1" fill="#0060c8" stroke="#fff" stroke-width="1"/>
<text x="54.7" y="315.0" class="t">A</text>
<ellipse cx="70.5" cy="328.5" rx="11" ry="8" fill="#fff" stroke="#000" stroke-width="1"/>
<ellipse cx="108.5" cy="330.5" rx="11" ry="8" fill="#fff" stroke="#000" stroke-width="1"/>
<ellipse cx="147.5" cy="331.5" rx="11" ry="8" fill="#fff" stroke="#000" stroke-width="1"/>
<ellipse cx="185.5" cy="333.5" rx="11" ry="8" fill="#fff" stroke="#000" stroke-width="1"/>
<polygon points="224.8,333.5 196.8,345.7 210.4,359.3" fill="#1e90ff" stroke="#fff" stroke-width="1"/>
<text x="211.2" y="348.7" class="t">A</text>
<ellipse cx="224.5" cy="333.5" rx="11" ry="8" fill="#fff" stroke="#000" stroke-width="1"/>
<polygon points="262.5,333.5 234.3,346.3 249.2,359.9" fill="#1e90ff" stroke="#fff" stroke-width="1"/>
<text x="249.2" y="349.0" class="t">A</text>
<ellipse cx="262.5" cy="333.5" rx="11" ry="8" fill="#fff" stroke="#000" stroke-width="1"/>
<polygon points="301.5,332.8 281.0,349.5 294.0,359.9" fill="#5aa5f5" stroke="#fff" stroke-width="1"/>
<text x="292.5" y="349.8" class="t">AA</text>
<ellipse cx="301.5" cy="332.5" rx="11" ry="8" fill="#fff" stroke="#000" stroke-width="1"/>
<polygon points="339.6,334.5 314.9,322.8 326.5,310.6" fill="#5aa5f5" stroke="#fff" stroke-width="1"/>
<text x="327.5" y="326.1" class="t">A</text>
<ellipse cx="339.5" cy="334.5" rx="11" ry="8" fill="#fff" stroke="#000" stroke-width="1"/>
<ellipse cx="377.5" cy="334.5" rx="11" ry="8" fill="#fff" stroke="#000" stroke-width="1"/>
<polygon points="416.0,333.8 387.1,323.4 387.1,341.8" fill="#1e90ff" stroke="#fff" stroke-width="1"/>
<text x="397.5" y="336.0" class="t">A</text>
<ellipse cx="416.5" cy="333.5" rx="11" ry="8" fill="#fff" stroke="#000" stroke-width="1"/>
<polygon points="454.5,333.5 426.5,322.3 426.5,341.3" fill="#1e90ff" stroke="#fff" stroke-width="1"/>
<text x="436.6" y="335.4" class="t">A</text>
<ellipse cx="454.5" cy="333.5" rx="11" ry="8" fill="#fff" stroke="#000" stroke-width="1"/>
<polygon points="493.0,331.5 461.8,319.6 461.8,341.3" fill="#0a78f0" stroke="#fff" stroke-width="1"/>
<text x="473.0" y="333.8" class="t">A</text>
<ellipse cx="493.5" cy="331.5" rx="11" ry="8" fill="#fff" stroke="#000" stroke-width="1"/>
<polygon points="533.3,330.6 497.0,324.2 507.9,303.3" fill="#0060c8" stroke="#fff" stroke-width="1"/>
<text x="513.6" y="322.8" class="t">A</text>
<ellipse cx="533.5" cy="330.5" rx="11" ry="8" fill="#fff" stroke="#000" stroke-width="1"/>
<polygon points="648.3,320.1 620.6,323.4 630.6,339.6" fill="#5aa5f5" stroke="#fff" stroke-width="1"/>
<text x="633.8" y="330.4" class="t">A</text>
<ellipse cx="648.5" cy="320.5" rx="11" ry="8" fill="#fff" stroke="#000" stroke-width="1"/>
<polygon points="683.5,320.2 687.5,283.1 710.8,294.7" fill="#c80000" stroke="#fff" stroke-width="1"/>
<text x="693.5" y="303.2" class="t">A</text>
<ellipse cx="683.5" cy="320.5" rx="11" ry="8" fill="#fff" stroke="#000" stroke-width="1"/>
<polygon points="723.3,317.1 691.6,286.9 718.1,274.9" fill="#0060c8" stroke="#fff" stroke-width="1"/>
<text x="711.5" y="296.9" class="t">A</text>
<ellipse cx="723.5" cy="317.5" rx="11" ry="8" fill="#fff" stroke="#000" stroke-width="1"/>
<polygon points="27.1,376.1 13.6,338.7 41.2,338.7" fill="#0060c8" stroke="#fff" stroke-width="1"/>
<text x="27.3" y="355.2" class="t">A</text>
<ellipse cx="27.5" cy="376.5" rx="11" ry="8" fill="#fff" stroke="#000" stroke-width="1"/>
<polygon points="80.2,378.2 108.7,367.6 108.7,388.8" fill="#f02828" stroke="#fff" stroke-width="1"/>
<text x="98.4" y="381.2" class="t">A</text>
<ellipse cx="80.5" cy="378.5" rx="11" ry="8" fill="#fff" stroke="#000" stroke-width="1"/>
<ellipse cx="106.5" cy="381.5" rx="11" ry="8" fill="#fff" stroke="#000" stroke-width="1"/>
<ellipse cx="145.5" cy="382.5" rx="11" ry="8" fill="#fff" stroke="#000" stroke-width="1"/>
<ellipse cx="184.5" cy="383.5" rx="11" ry="8" fill="#fff" stroke="#000" stroke-width="1"/>
<ellipse cx="223.5" cy="385.5" rx="11" ry="8" fill="#fff" stroke="#000" stroke-width="1"/>
<polygon points="262.2,386.2 237.0,373.4 250.0,362.0" fill="#5aa5f5" stroke="#fff" stroke-width="1"/>
<text x="250.2" y="377.4" class="t">AA</text>
<ellipse cx="262.5" cy="386.5" rx="11" ry="8" fill="#fff" stroke="#000" stroke-width="1"/>
<polygon points="301.3,385.6 275.5,376.1 275.5,395.1" fill="#5aa5f5" stroke="#fff" stroke-width="1"/>
<text x="284.8" y="388.6" class="t">AA</text>
<ellipse cx="301.5" cy="385.5" rx="11" ry="8" fill="#fff" stroke="#000" stroke-width="1"/>
<polygon points="340.1,384.8 313.0,387.0 321.1,403.3" fill="#5aa5f5" stroke="#fff" stroke-width="1"/>
<text x="325.3" y="394.4" class="t">A</text>
<ellipse cx="340.5" cy="384.5" rx="11" ry="8" fill="#fff" stroke="#000" stroke-width="1"/>
<ellipse cx="378.5" cy="386.5" rx="11" ry="8" fill="#fff" stroke="#000" stroke-width="1"/>
<polygon points="417.5,385.1 392.6,372.1 404.8,359.9" fill="#5aa5f5" stroke="#fff" stroke-width="1"/>
<text x="405.5" y="375.9" class="t">A</text>
<ellipse cx="417.5" cy="385.5" rx="11" ry="8" fill="#fff" stroke="#000" stroke-width="1"/>
<polygon points="456.3,384.3 431.1,372.1 442.8,358.5" fill="#5aa5f5" stroke="#fff" stroke-width="1"/>
<text x="443.9" y="375.1" class="t">A</text>
<ellipse cx="456.5" cy="384.5" rx="11" ry="8" fill="#fff" stroke="#000" stroke-width="1"/>
<polygon points="495.7,382.4 465.8,377.5 475.3,360.4" fill="#1e90ff" stroke="#fff" stroke-width="1"/>
<text x="479.6" y="376.8" class="t">A</text>
<ellipse cx="495.5" cy="382.5" rx="11" ry="8" fill="#fff" stroke="#000" stroke-width="1"/>
<polygon points="520.1,380.2 493.5,371.2 493.5,390.2" fill="#5aa5f5" stroke="#fff" stroke-width="1"/>
<text x="503.1" y="383.5" class="t">A</text>
<ellipse cx="520.5" cy="380.5" rx="11" ry="8" fill="#fff" stroke="#000" stroke-width="1"/>
<polygon points="573.6,378.3 544.6,365.3 560.1,349.5" fill="#1e90ff" stroke="#fff" stroke-width="1"/>
<text x="560.0" y="367.9" class="t">A</text>
<ellipse cx="573.5" cy="378.5" rx="11" ry="8" fill="#fff" stroke="#000" stroke-width="1"/>
<polygon points="612.4,376.1 578.2,359.9 596.2,342.2" fill="#0060c8" stroke="#fff" stroke-width="1"/>
<text x="596.3" y="363.1" class="t">A</text>
<ellipse cx="612.5" cy="376.5" rx="11" ry="8" fill="#fff" stroke="#000" stroke-width="1"/>
<polygon points="651.0,373.4 617.9,368.0 627.9,347.6" fill="#0a78f0" stroke="#fff" stroke-width="1"/>
<text x="633.0" y="366.4" class="t">A</text>
<ellipse cx="651.5" cy="373.5" rx="11" ry="8" fill="#fff" stroke="#000" stroke-width="1"/>
<polygon points="689.5,369.3 654.2,356.6 654.2,381.6" fill="#0060c8" stroke="#fff" stroke-width="1"/>
<text x="666.9" y="372.2" class="t">A</text>
<ellipse cx="689.5" cy="369.5" rx="11" ry="8" fill="#fff" stroke="#000" stroke-width="1"/>
<polygon points="728.3,366.6 693.0,361.2 703.1,338.7" fill="#0060c8" stroke="#fff" stroke-width="1"/>
<text x="708.9" y="358.9" class="t">A</text>
<ellipse cx="728.5" cy="366.5" rx="11" ry="8" fill="#fff" stroke="#000" stroke-width="1"/>
<polygon points="678.7,401.9 649.6,392.4 649.6,412.8" fill="#1e90ff" stroke="#fff" stroke-width="1"/>
<text x="660.1" y="405.3" class="t">A</text>
<ellipse cx="678.5" cy="401.5" rx="11" ry="8" fill="#fff" stroke="#000" stroke-width="1"/>
<polygon points="731.0,416.3 698.5,403.8 698.5,429.0" fill="#0060c8" stroke="#fff" stroke-width="1"/>
<text x="710.2" y="419.4" class="t">A</text>
<ellipse cx="731.5" cy="416.5" rx="11" ry="8" fill="#fff" stroke="#000" stroke-width="1"/>
<polygon points="64.3,429.0 32.6,414.1 49.4,397.8" fill="#0a78f0" stroke="#fff" stroke-width="1"/>
<text x="49.4" y="417.2" class="t">A</text>
<ellipse cx="64.5" cy="429.5" rx="11" ry="8" fill="#fff" stroke="#000" stroke-width="1"/>
<ellipse cx="103.5" cy="432.5" rx="11" ry="8" fill="#fff" stroke="#000" stroke-width="1"/>
<ellipse cx="143.5" cy="433.5" rx="11" ry="8" fill="#fff" stroke="#000" stroke-width="1"/>
<ellipse cx="182.5" cy="435.5" rx="11" ry="8" fill="#fff" stroke="#000" stroke-width="1"/>
<g transform="translate(182.5,435.5)" fill="#0a5cf2"><circle cx="0" cy="1.6" r="3.2"/><rect x="-1" y="-3.2" width="2" height="2.5"/></g>
<ellipse cx="222.5" cy="436.5" rx="11" ry="8" fill="#fff" stroke="#000" stroke-width="1"/>
<ellipse cx="261.5" cy="437.5" rx="11" ry="8" fill="#fff" stroke="#000" stroke-width="1"/>
<ellipse cx="300.5" cy="437.5" rx="11" ry="8" fill="#fff" stroke="#000" stroke-width="1"/>
<polygon points="340.7,435.3 314.3,438.5 323.8,454.8" fill="#5aa5f5" stroke="#fff" stroke-width="1"/>
<text x="326.8" y="445.6" class="t">AA</text>
<ellipse cx="340.5" cy="435.5" rx="11" ry="8" fill="#fff" stroke="#000" stroke-width="1"/>
<polygon points="379.5,436.4 350.4,425.5 350.4,447.2" fill="#1e90ff" stroke="#fff" stroke-width="1"/>
<text x="360.9" y="439.4" class="t">AA</text>
<ellipse cx="379.5" cy="436.5" rx="11" ry="8" fill="#fff" stroke="#000" stroke-width="1"/>
<polygon points="417.5,435.8 387.1,433.1 395.3,412.8" fill="#0a78f0" stroke="#fff" stroke-width="1"/>
<text x="400.7" y="430.6" class="t">A</text>
<ellipse cx="417.5" cy="435.5" rx="11" ry="8" fill="#fff" stroke="#000" stroke-width="1"/>
<polygon points="457.7,433.9 427.3,423.6 427.3,445.3" fill="#0a78f0" stroke="#fff" stroke-width="1"/>
<text x="438.2" y="437.3" class="t">A</text>
<ellipse cx="457.5" cy="433.5" rx="11" ry="8" fill="#fff" stroke="#000" stroke-width="1"/>
<polygon points="497.0,431.8 468.5,422.3 468.5,442.6" fill="#1e90ff" stroke="#fff" stroke-width="1"/>
<text x="478.8" y="435.2" class="t">A</text>
<ellipse cx="497.5" cy="431.5" rx="11" ry="8" fill="#fff" stroke="#000" stroke-width="1"/>
<polygon points="538.3,431.8 506.5,426.3 516.0,407.3" fill="#1e90ff" stroke="#fff" stroke-width="1"/>
<text x="521.0" y="425.2" class="t">A</text>
<ellipse cx="538.5" cy="431.5" rx="11" ry="8" fill="#fff" stroke="#000" stroke-width="1"/>
<polygon points="577.2,429.0 543.8,425.0 553.8,403.3" fill="#0a78f0" stroke="#fff" stroke-width="1"/>
<text x="559.0" y="422.5" class="t">A</text>
<ellipse cx="577.5" cy="429.5" rx="11" ry="8" fill="#fff" stroke="#000" stroke-width="1"/>
<polygon points="615.2,427.1 581.8,411.4 598.9,393.8" fill="#0060c8" stroke="#fff" stroke-width="1"/>
<text x="599.3" y="414.4" class="t">A</text>
<ellipse cx="615.5" cy="427.5" rx="11" ry="8" fill="#fff" stroke="#000" stroke-width="1"/>
<polygon points="656.4,424.4 622.5,420.9 631.4,399.2" fill="#0a78f0" stroke="#fff" stroke-width="1"/>
<text x="637.6" y="418.2" class="t">A</text>
<ellipse cx="656.5" cy="424.5" rx="11" ry="8" fill="#fff" stroke="#000" stroke-width="1"/>
<polygon points="61.1,480.6 35.8,457.0 57.0,448.0" fill="#0a78f0" stroke="#fff" stroke-width="1"/>
<text x="51.7" y="465.6" class="t">A</text>
<ellipse cx="61.5" cy="480.5" rx="11" ry="8" fill="#fff" stroke="#000" stroke-width="1"/>
<polygon points="99.0,479.8 101.8,506.4 119.4,498.2" fill="#f06464" stroke="#fff" stroke-width="1"/>
<text x="106.4" y="497.2" class="t">A</text>
<ellipse cx="99.5" cy="479.5" rx="11" ry="8" fill="#fff" stroke="#000" stroke-width="1"/>
<polygon points="139.8,482.0 131.6,507.7 150.6,507.7" fill="#5aa5f5" stroke="#fff" stroke-width="1"/>
<text x="140.6" y="501.4" class="t">AA</text>
<ellipse cx="139.5" cy="482.5" rx="11" ry="8" fill="#fff" stroke="#000" stroke-width="1"/>
<ellipse cx="181.5" cy="486.5" rx="11" ry="8" fill="#fff" stroke="#000" stroke-width="1"/>
<ellipse cx="220.5" cy="487.5" rx="11" ry="8" fill="#fff" stroke="#000" stroke-width="1"/>
<ellipse cx="260.5" cy="487.5" rx="11" ry="8" fill="#fff" stroke="#000" stroke-width="1"/>
<ellipse cx="300.5" cy="487.5" rx="11" ry="8" fill="#fff" stroke="#000" stroke-width="1"/>
<polygon points="340.4,485.3 319.8,503.4 337.1,512.5" fill="#5aa5f5" stroke="#fff" stroke-width="1"/>
<text x="332.8" y="502.8" class="t">AA</text>
<ellipse cx="340.5" cy="485.5" rx="11" ry="8" fill="#fff" stroke="#000" stroke-width="1"/>
<polygon points="380.0,486.4 354.5,497.3 368.6,511.4" fill="#5aa5f5" stroke="#fff" stroke-width="1"/>
<text x="368.2" y="500.9" class="t">AA</text>
<ellipse cx="380.5" cy="486.5" rx="11" ry="8" fill="#fff" stroke="#000" stroke-width="1"/>
<polygon points="421.1,486.9 389.3,482.0 398.0,463.0" fill="#0a78f0" stroke="#fff" stroke-width="1"/>
<text x="403.5" y="480.7" class="t">A</text>
<ellipse cx="421.5" cy="486.5" rx="11" ry="8" fill="#fff" stroke="#000" stroke-width="1"/>
<polygon points="459.0,486.0 427.3,470.6 442.8,454.3" fill="#0060c8" stroke="#fff" stroke-width="1"/>
<text x="443.7" y="473.9" class="t">A</text>
<ellipse cx="459.5" cy="486.5" rx="11" ry="8" fill="#fff" stroke="#000" stroke-width="1"/>
<polygon points="498.4,483.3 471.3,471.1 485.4,456.2" fill="#1e90ff" stroke="#fff" stroke-width="1"/>
<text x="485.6" y="473.7" class="t">A</text>
<ellipse cx="498.5" cy="483.5" rx="11" ry="8" fill="#fff" stroke="#000" stroke-width="1"/>
<polygon points="540.5,482.5 510.6,478.7 522.8,460.3" fill="#1e90ff" stroke="#fff" stroke-width="1"/>
<text x="525.3" y="477.2" class="t">A</text>
<ellipse cx="540.5" cy="482.5" rx="11" ry="8" fill="#fff" stroke="#000" stroke-width="1"/>
<polygon points="580.4,479.8 547.9,477.9 556.5,455.4" fill="#0a78f0" stroke="#fff" stroke-width="1"/>
<text x="562.4" y="474.4" class="t">A</text>
<ellipse cx="580.5" cy="479.5" rx="11" ry="8" fill="#fff" stroke="#000" stroke-width="1"/>
<polygon points="619.8,477.9 585.8,464.3 602.7,445.3" fill="#0060c8" stroke="#fff" stroke-width="1"/>
<text x="603.4" y="466.1" class="t">A</text>
<ellipse cx="619.5" cy="477.5" rx="11" ry="8" fill="#fff" stroke="#000" stroke-width="1"/>
<polygon points="658.6,475.2 625.2,459.7 642.3,441.8" fill="#0060c8" stroke="#fff" stroke-width="1"/>
<text x="642.7" y="462.6" class="t">A</text>
<ellipse cx="658.5" cy="475.5" rx="11" ry="8" fill="#fff" stroke="#000" stroke-width="1"/>
<polygon points="699.3,471.9 668.6,468.4 676.8,449.4" fill="#1e90ff" stroke="#fff" stroke-width="1"/>
<text x="682.3" y="466.6" class="t">A</text>
<ellipse cx="699.5" cy="471.5" rx="11" ry="8" fill="#fff" stroke="#000" stroke-width="1"/>
<polygon points="733.7,467.9 708.5,464.3 716.1,446.1" fill="#1e90ff" stroke="#fff" stroke-width="1"/>
<text x="720.0" y="462.8" class="t">A</text>
<ellipse cx="733.5" cy="467.5" rx="11" ry="8" fill="#fff" stroke="#000" stroke-width="1"/>
<polygon points="58.3,530.2 23.1,517.1 23.1,543.7" fill="#0060c8" stroke="#fff" stroke-width="1"/>
<text x="35.8" y="533.3" class="t">AA</text>
<ellipse cx="58.5" cy="530.5" rx="11" ry="8" fill="#fff" stroke="#000" stroke-width="1"/>
<g transform="translate(58.5,530.5)" fill="#0a5cf2"><circle cx="0" cy="1.6" r="3.2"/><rect x="-1" y="-3.2" width="2" height="2.5"/></g>
<polygon points="97.2,531.2 88.2,557.3 107.2,557.3" fill="#5aa5f5" stroke="#fff" stroke-width="1"/>
<text x="97.5" y="550.9" class="t">AA</text>
<ellipse cx="97.5" cy="531.5" rx="11" ry="8" fill="#fff" stroke="#000" stroke-width="1"/>
<polygon points="138.9,532.1 119.4,550.2 134.3,558.4" fill="#5aa5f5" stroke="#fff" stroke-width="1"/>
<text x="131.2" y="549.3" class="t">AA</text>
<ellipse cx="138.5" cy="532.5" rx="11" ry="8" fill="#fff" stroke="#000" stroke-width="1"/>
<g transform="translate(138.5,532.5)" fill="#0a5cf2"><circle cx="0" cy="1.6" r="3.2"/><rect x="-1" y="-3.2" width="2" height="2.5"/></g>
<ellipse cx="180.5" cy="536.5" rx="11" ry="8" fill="#fff" stroke="#000" stroke-width="1"/>
<ellipse cx="219.5" cy="538.5" rx="11" ry="8" fill="#fff" stroke="#000" stroke-width="1"/>
<ellipse cx="260.5" cy="539.5" rx="11" ry="8" fill="#fff" stroke="#000" stroke-width="1"/>
<ellipse cx="300.5" cy="539.5" rx="11" ry="8" fill="#fff" stroke="#000" stroke-width="1"/>
<ellipse cx="340.5" cy="539.5" rx="11" ry="8" fill="#fff" stroke="#000" stroke-width="1"/>
<polygon points="380.4,538.0 355.0,529.3 355.0,547.5" fill="#5aa5f5" stroke="#fff" stroke-width="1"/>
<text x="364.1" y="541.3" class="t">AA</text>
<ellipse cx="380.5" cy="538.5" rx="11" ry="8" fill="#fff" stroke="#000" stroke-width="1"/>
<polygon points="421.1,537.5 392.6,527.4 392.6,547.5" fill="#1e90ff" stroke="#fff" stroke-width="1"/>
<text x="402.9" y="540.5" class="t">A</text>
<ellipse cx="421.5" cy="537.5" rx="11" ry="8" fill="#fff" stroke="#000" stroke-width="1"/>
<polygon points="461.0,536.7 433.3,523.9 448.2,509.0" fill="#1e90ff" stroke="#fff" stroke-width="1"/>
<text x="448.0" y="526.7" class="t">A</text>
<ellipse cx="461.5" cy="536.5" rx="11" ry="8" fill="#fff" stroke="#000" stroke-width="1"/>
<polygon points="501.1,534.8 465.8,517.7 484.8,500.3" fill="#0060c8" stroke="#fff" stroke-width="1"/>
<text x="484.6" y="521.3" class="t">A</text>
<ellipse cx="501.5" cy="534.5" rx="11" ry="8" fill="#fff" stroke="#000" stroke-width="1"/>
<polygon points="542.4,532.1 513.3,521.2 513.3,542.9" fill="#1e90ff" stroke="#fff" stroke-width="1"/>
<text x="523.8" y="535.1" class="t">A</text>
<ellipse cx="542.5" cy="532.5" rx="11" ry="8" fill="#fff" stroke="#000" stroke-width="1"/>
<polygon points="582.6,530.7 553.8,517.7 569.0,503.0" fill="#1e90ff" stroke="#fff" stroke-width="1"/>
<text x="569.0" y="520.7" class="t">A</text>
<ellipse cx="582.5" cy="530.5" rx="11" ry="8" fill="#fff" stroke="#000" stroke-width="1"/>
<polygon points="622.5,529.3 590.7,513.9 607.6,498.1" fill="#0a78f0" stroke="#fff" stroke-width="1"/>
<text x="607.6" y="517.4" class="t">A</text>
<ellipse cx="622.5" cy="529.5" rx="11" ry="8" fill="#fff" stroke="#000" stroke-width="1"/>
<polygon points="663.2,526.1 629.8,522.0 639.6,500.9" fill="#0a78f0" stroke="#fff" stroke-width="1"/>
<text x="645.0" y="519.7" class="t">A</text>
<ellipse cx="663.5" cy="526.5" rx="11" ry="8" fill="#fff" stroke="#000" stroke-width="1"/>
<polygon points="702.5,523.1 670.5,508.5 687.6,492.2" fill="#0a78f0" stroke="#fff" stroke-width="1"/>
<text x="687.5" y="511.5" class="t">A</text>
<ellipse cx="702.5" cy="523.5" rx="11" ry="8" fill="#fff" stroke="#000" stroke-width="1"/>
<polygon points="735.0,519.9 717.5,506.8 731.0,494.1" fill="#5aa5f5" stroke="#fff" stroke-width="1"/>
<text x="728.1" y="510.5" class="t">A</text>
<ellipse cx="735.5" cy="519.5" rx="11" ry="8" fill="#fff" stroke="#000" stroke-width="1"/>
<polygon points="71.9,561.9 42.1,566.5 51.6,583.6" fill="#1e90ff" stroke="#fff" stroke-width="1"/>
<text x="55.9" y="573.3" class="t">AA</text>
<ellipse cx="71.5" cy="561.5" rx="11" ry="8" fill="#fff" stroke="#000" stroke-width="1"/>
<g transform="translate(71.5,561.5)" fill="#0a5cf2"><circle cx="0" cy="1.6" r="3.2"/><rect x="-1" y="-3.2" width="2" height="2.5"/></g>
<ellipse cx="82.5" cy="566.5" rx="11" ry="8" fill="#fff" stroke="#000" stroke-width="1"/>
<g transform="translate(82.5,566.5)" fill="#0a5cf2"><circle cx="0" cy="1.6" r="3.2"/><rect x="-1" y="-3.2" width="2" height="2.5"/></g>
<ellipse cx="122.5" cy="566.5" rx="11" ry="8" fill="#fff" stroke="#000" stroke-width="1"/>
<polygon points="163.4,569.2 143.3,552.4 160.1,542.9" fill="#5aa5f5" stroke="#fff" stroke-width="1"/>
<text x="155.9" y="558.4" class="t">AA</text>
<ellipse cx="163.5" cy="569.5" rx="11" ry="8" fill="#fff" stroke="#000" stroke-width="1"/>
<ellipse cx="218.5" cy="589.5" rx="11" ry="8" fill="#fff" stroke="#000" stroke-width="1"/>
<ellipse cx="259.5" cy="589.5" rx="11" ry="8" fill="#fff" stroke="#000" stroke-width="1"/>
<polygon points="299.4,590.4 289.9,564.6 308.9,564.6" fill="#5aa5f5" stroke="#fff" stroke-width="1"/>
<text x="299.4" y="576.9" class="t">AA</text>
<ellipse cx="299.5" cy="590.5" rx="11" ry="8" fill="#fff" stroke="#000" stroke-width="1"/>
<polygon points="340.1,591.2 318.4,571.4 335.2,561.1" fill="#1e90ff" stroke="#fff" stroke-width="1"/>
<text x="331.6" y="578.2" class="t">AA</text>
<ellipse cx="340.5" cy="591.5" rx="11" ry="8" fill="#fff" stroke="#000" stroke-width="1"/>
<polygon points="381.5,589.2 353.7,576.3 367.8,561.9" fill="#1e90ff" stroke="#fff" stroke-width="1"/>
<text x="368.2" y="579.3" class="t">A</text>
<ellipse cx="381.5" cy="589.5" rx="11" ry="8" fill="#fff" stroke="#000" stroke-width="1"/>
<polygon points="421.9,589.0 398.0,577.4 408.8,564.6" fill="#5aa5f5" stroke="#fff" stroke-width="1"/>
<text x="410.1" y="580.5" class="t">A</text>
<ellipse cx="421.5" cy="589.5" rx="11" ry="8" fill="#fff" stroke="#000" stroke-width="1"/>
<polygon points="464.5,588.2 431.1,582.3 440.0,563.3" fill="#0a78f0" stroke="#fff" stroke-width="1"/>
<text x="446.0" y="581.3" class="t">A</text>
<ellipse cx="464.5" cy="588.5" rx="11" ry="8" fill="#fff" stroke="#000" stroke-width="1"/>
<polygon points="503.3,586.3 467.2,570.0 485.4,550.2" fill="#0060c8" stroke="#fff" stroke-width="1"/>
<text x="486.0" y="572.5" class="t">A</text>
<ellipse cx="503.5" cy="586.5" rx="11" ry="8" fill="#fff" stroke="#000" stroke-width="1"/>
<polygon points="544.8,584.3 509.3,576.3 519.6,556.5" fill="#0060c8" stroke="#fff" stroke-width="1"/>
<text x="525.4" y="575.8" class="t">A</text>
<ellipse cx="544.5" cy="584.5" rx="11" ry="8" fill="#fff" stroke="#000" stroke-width="1"/>
<polygon points="583.7,581.5 553.8,570.0 553.8,593.7" fill="#0a78f0" stroke="#fff" stroke-width="1"/>
<text x="564.6" y="584.7" class="t">A</text>
<ellipse cx="583.5" cy="581.5" rx="11" ry="8" fill="#fff" stroke="#000" stroke-width="1"/>
<polygon points="625.2,579.6 590.7,567.3 590.7,592.6" fill="#0060c8" stroke="#fff" stroke-width="1"/>
<text x="603.1" y="582.8" class="t">A</text>
<ellipse cx="625.5" cy="579.5" rx="11" ry="8" fill="#fff" stroke="#000" stroke-width="1"/>
<polygon points="665.9,576.8 634.1,564.6 634.1,588.2" fill="#0a78f0" stroke="#fff" stroke-width="1"/>
<text x="645.5" y="579.5" class="t">A</text>
<ellipse cx="665.5" cy="576.5" rx="11" ry="8" fill="#fff" stroke="#000" stroke-width="1"/>
<g transform="translate(665.5,576.5)" fill="#0a5cf2"><circle cx="0" cy="1.6" r="3.2"/><rect x="-1" y="-3.2" width="2" height="2.5"/></g>
<polygon points="706.6,572.8 675.4,561.1 675.4,584.4" fill="#0a78f0" stroke="#fff" stroke-width="1"/>
<text x="686.6" y="575.8" class="t">A</text>
<ellipse cx="706.5" cy="572.5" rx="11" ry="8" fill="#fff" stroke="#000" stroke-width="1"/>
<g transform="translate(706.5,572.5)" fill="#0a5cf2"><circle cx="0" cy="1.6" r="3.2"/><rect x="-1" y="-3.2" width="2" height="2.5"/></g>
<polygon points="749.0,569.5 718.4,572.1 726.5,590.0" fill="#1e90ff" stroke="#fff" stroke-width="1"/>
<text x="732.0" y="579.9" class="t">A</text>
<ellipse cx="749.5" cy="569.5" rx="11" ry="8" fill="#fff" stroke="#000" stroke-width="1"/>
<rect x="0" y="652" width="737" height="20" fill="#1b1d33"/>
<text x="367.4" y="669" text-anchor="middle" font-family="Liberation Sans, Arial, sans-serif" font-size="21.45" fill="#e6e8f6" shape-rendering="auto">(c) windmig - Wednesday 07 January 2026 - 09H</text>
</svg>

</div></body></html>
